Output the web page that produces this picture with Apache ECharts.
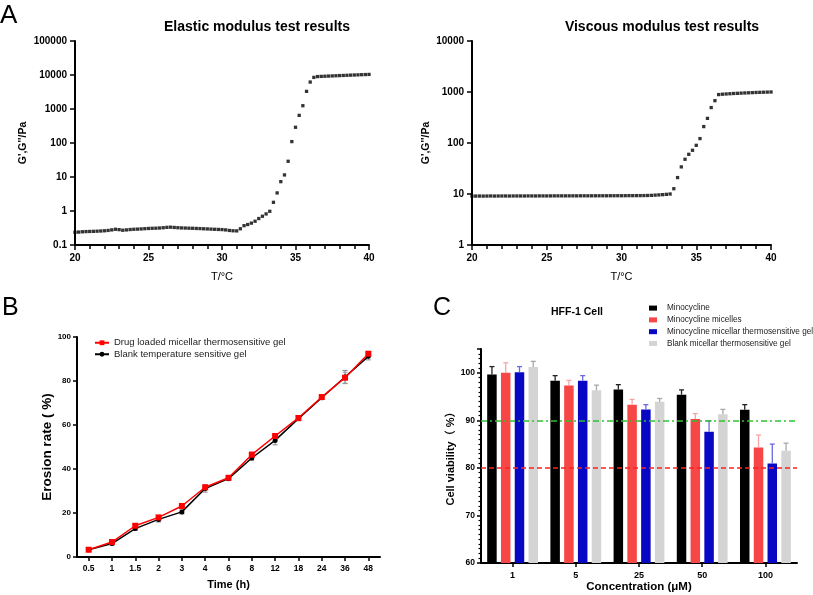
<!DOCTYPE html>
<html>
<head>
<meta charset="utf-8">
<script src="https://cdn.jsdelivr.net/npm/echarts@6/dist/echarts.min.js"></script>
<style>
  html, body { margin: 0; padding: 0; background: #fff; }
  #chart { width: 813px; height: 595px; }
</style>
</head>
<body>
<div id="chart"></div>
<script>
// panel A: rheology temperature sweep
const temps = [20, 20.25, 20.5, 20.75, 21, 21.25, 21.5, 21.75, 22, 22.25, 22.5, 22.75, 23, 23.25, 23.5, 23.75,
  24, 24.25, 24.5, 24.75, 25, 25.25, 25.5, 25.75, 26, 26.25, 26.5, 26.75, 27, 27.25, 27.5, 27.75,
  28, 28.25, 28.5, 28.75, 29, 29.25, 29.5, 29.75, 30, 30.25, 30.5, 30.75, 31, 31.25, 31.5, 31.75,
  32, 32.25, 32.5, 32.75, 33, 33.25, 33.5, 33.75, 34, 34.25, 34.5, 34.75, 35, 35.25, 35.5, 35.75,
  36, 36.25, 36.5, 36.75, 37, 37.25, 37.5, 37.75, 38, 38.25, 38.5, 38.75, 39, 39.25, 39.5, 39.75, 40];
const elasticG = [0.236, 0.24, 0.245, 0.248, 0.25, 0.252, 0.255, 0.258, 0.262, 0.268, 0.278, 0.29, 0.283, 0.272, 0.278, 0.285,
  0.29, 0.293, 0.297, 0.302, 0.307, 0.31, 0.312, 0.316, 0.322, 0.33, 0.334, 0.328, 0.322, 0.318, 0.315, 0.312,
  0.31, 0.307, 0.304, 0.3, 0.297, 0.293, 0.29, 0.287, 0.284, 0.278, 0.268, 0.262, 0.26, 0.3, 0.37, 0.4,
  0.44, 0.5, 0.6, 0.7, 0.82, 0.98, 1.8, 3.4, 7.3, 11.5, 29, 110, 290, 650, 1250, 3300,
  6200, 8500, 9000, 9100, 9200, 9300, 9400, 9500, 9600, 9700, 9800, 9900, 10000, 10100, 10200, 10300, 10400];
const viscousG = [9.1, 9.1, 9.12, 9.1, 9.12, 9.15, 9.12, 9.13, 9.15, 9.15, 9.13, 9.15, 9.16, 9.15, 9.15, 9.17,
  9.17, 9.16, 9.18, 9.18, 9.17, 9.18, 9.2, 9.19, 9.2, 9.2, 9.2, 9.21, 9.2, 9.22, 9.22, 9.21,
  9.22, 9.23, 9.23, 9.24, 9.23, 9.25, 9.25, 9.26, 9.25, 9.27, 9.28, 9.28, 9.3, 9.3, 9.32, 9.35,
  9.4, 9.5, 9.6, 9.7, 9.85, 10.0, 12.7, 21, 34, 48, 60, 72, 90, 122, 210, 304,
  495, 676, 890, 905, 915, 925, 935, 942, 950, 958, 965, 972, 980, 985, 990, 995, 1000];

// panel B: erosion
const timeCats = ['0.5', '1', '1.5', '2', '3', '4', '6', '8', '12', '18', '24', '36', '48'];
const drugGel = [3.3, 6.8, 14.2, 18.0, 23.2, 31.7, 36.0, 46.5, 55.0, 63.2, 72.7, 81.5, 92.4];
const drugGelErr = [0.4, 0.6, 0.8, 0.8, 0.6, 1.0, 0.6, 1.2, 1.0, 0.8, 0.8, 2.5, 1.0];
const blankGel = [3.3, 6.1, 12.9, 17.1, 20.5, 31.1, 35.6, 45.0, 53.0, 62.9, 72.4, 81.8, 91.2];
const blankGelErr = [0.4, 0.7, 0.8, 1.2, 0.9, 1.6, 0.6, 1.0, 2.0, 1.0, 0.8, 3.0, 1.6];

// panel C: HFF-1 viability
const concCats = ['1', '5', '25', '50', '100'];
const seriesNames = ['Minocycline', 'Minocycline micelles', 'Minocycline micellar thermosensitive gel', 'Blank micellar thermosensitive gel'];
const minoVals = [99.65, 98.3, 96.5, 95.4, 92.2];
const minoErr = [1.65, 1.1, 1.0, 1.0, 1.1];
const micVals = [100.0, 97.3, 93.3, 90.3, 84.3];
const micErr = [2.1, 1.1, 1.1, 1.1, 2.6];
const gelVals = [100.1, 98.3, 92.3, 87.6, 80.9];
const gelErr = [1.2, 1.1, 1.0, 2.3, 4.1];
const blankVals = [101.2, 96.3, 93.9, 91.3, 83.6];
const blankErr = [1.2, 1.1, 0.7, 1.0, 1.6];

const FONT = '"Liberation Sans", Arial, "Noto Sans CJK SC", sans-serif';
const chart = echarts.init(document.getElementById('chart'));

const barColors = ['#000000', '#f64646', '#0808c4', '#d4d4d4'];
const errColors = ['#222222', '#f8a4a4', '#6a6ae0', '#a8a8a8'];
const barWidth = 9.5;
const barGapRatio = 0.45;
const pitch = barWidth * (1 + barGapRatio);
const cVals = [minoVals, micVals, gelVals, blankVals];
const cErrs = [minoErr, micErr, gelErr, blankErr];

function logLabel(v) {
  return String(+(+v).toPrecision(6));
}

function axisBase(extra) {
  return Object.assign({
    axisLine: { show: true, lineStyle: { color: '#000', width: 2 } },
    axisTick: { show: true, inside: false, length: 5, lineStyle: { color: '#000', width: 1.5 } },
    splitLine: { show: false },
    nameTextStyle: { color: '#000', fontFamily: FONT }
  }, extra);
}

// error bars for panel C, shifted to sit on each bar
function barErr(idx) {
  return function (params, api) {
    const ci = api.value(0), v = api.value(1), e = api.value(2);
    const base = api.coord([ci, v]);
    const top = api.coord([ci, v + e]);
    const x = base[0] + (idx - 1.5) * pitch;
    const st = { stroke: errColors[idx], lineWidth: 1.3 };
    return {
      type: 'group', children: [
        { type: 'line', shape: { x1: x, y1: base[1], x2: x, y2: top[1] }, style: st },
        { type: 'line', shape: { x1: x - 2.5, y1: top[1], x2: x + 2.5, y2: top[1] }, style: st }
      ]
    };
  };
}

// error bars for panel B, both directions
function lineErr(color) {
  return function (params, api) {
    const ci = api.value(0), v = api.value(1), e = api.value(2);
    const lo = api.coord([ci, v - e]);
    const hi = api.coord([ci, v + e]);
    const x = lo[0];
    const st = { stroke: color, lineWidth: 1 };
    return {
      type: 'group', children: [
        { type: 'line', shape: { x1: x, y1: lo[1], x2: x, y2: hi[1] }, style: st },
        { type: 'line', shape: { x1: x - 2.5, y1: lo[1], x2: x + 2.5, y2: lo[1] }, style: st },
        { type: 'line', shape: { x1: x - 2.5, y1: hi[1], x2: x + 2.5, y2: hi[1] }, style: st }
      ]
    };
  };
}

const barSeries = seriesNames.map((name, i) => {
  const s = {
    name: name,
    type: 'bar',
    xAxisIndex: 3, yAxisIndex: 3,
    barWidth: barWidth,
    barGap: (barGapRatio * 100) + '%',
    itemStyle: { color: barColors[i] },
    data: cVals[i]
  };
  if (i === 3) {
    s.markLine = {
      silent: true, symbol: 'none', label: { show: false },
      data: [
        { yAxis: 90, lineStyle: { color: '#2ec42e', width: 1.5, type: [6, 3, 2, 3] } },
        { yAxis: 80, lineStyle: { color: '#ff2020', width: 1.5, type: [5, 3] } }
      ]
    };
  }
  return s;
});

const barErrSeries = seriesNames.map((name, i) => ({
  name: name + ' SD',
  type: 'custom',
  xAxisIndex: 3, yAxisIndex: 3,
  renderItem: barErr(i),
  z: 3,
  data: cVals[i].map((v, k) => [k, v, cErrs[i][k]])
}));

const tempMinor = { show: true, splitNumber: 5, length: 4, lineStyle: { color: '#000', width: 1.5 } };

const option = {
  animation: false,
  backgroundColor: '#fff',
  textStyle: { fontFamily: FONT },
  graphic: [
    { type: 'text', left: 0, top: 3, style: { text: 'A', fontSize: 26, fontFamily: FONT, fill: '#000' } },
    { type: 'text', left: 2, top: 296, style: { text: 'B', fontSize: 25, fontFamily: FONT, fill: '#000' } },
    { type: 'text', left: 433, top: 296, style: { text: 'C', fontSize: 25, fontFamily: FONT, fill: '#000' } },
    { type: 'text', x: 257, y: 27, style: { text: 'Elastic modulus test results', fontSize: 14, fontWeight: 'bold', fontFamily: FONT, fill: '#000', align: 'center', verticalAlign: 'middle' } },
    { type: 'text', x: 662, y: 27, style: { text: 'Viscous modulus test results', fontSize: 14, fontWeight: 'bold', fontFamily: FONT, fill: '#000', align: 'center', verticalAlign: 'middle' } },
    { type: 'text', x: 577, y: 312, style: { text: 'HFF-1 Cell', fontSize: 10.5, fontWeight: 'bold', fontFamily: FONT, fill: '#000', align: 'center', verticalAlign: 'middle' } }
  ],
  legend: [
    {
      data: ['Drug loaded micellar thermosensitive gel', 'Blank temperature sensitive gel'],
      orient: 'vertical', left: 89, top: 333,
      itemWidth: 14, itemHeight: 6, itemGap: 2,
      textStyle: { fontSize: 9.5, color: '#222', fontFamily: FONT }
    },
    {
      data: seriesNames,
      orient: 'vertical', left: 644, top: 299,
      icon: 'rect', itemWidth: 8, itemHeight: 5, itemGap: 3.6,
      textStyle: { fontSize: 8.2, color: '#222', fontFamily: FONT, padding: [0, 0, 0, 5] }
    }
  ],
  grid: [
    { left: 75, top: 41, width: 294, height: 204 },
    { left: 472, top: 41, width: 299, height: 204 },
    { left: 77, top: 337, width: 303, height: 220 },
    { left: 481, top: 349, width: 316, height: 214 }
  ],
  xAxis: [
    axisBase({
      gridIndex: 0, type: 'value', min: 20, max: 40, interval: 5,
      name: 'T/°C', nameLocation: 'middle', nameGap: 26,
      nameTextStyle: { fontSize: 11, color: '#000', fontFamily: FONT },
      minorTick: tempMinor,
      axisLabel: { fontSize: 10, fontWeight: 'bold', color: '#000', margin: 8 }
    }),
    axisBase({
      gridIndex: 1, type: 'value', min: 20, max: 40, interval: 5,
      name: 'T/°C', nameLocation: 'middle', nameGap: 26,
      nameTextStyle: { fontSize: 11, color: '#000', fontFamily: FONT },
      minorTick: tempMinor,
      axisLabel: { fontSize: 10, fontWeight: 'bold', color: '#000', margin: 8 }
    }),
    axisBase({
      gridIndex: 2, type: 'category', data: timeCats, boundaryGap: true,
      name: 'Time (h)', nameLocation: 'middle', nameGap: 22,
      nameTextStyle: { fontSize: 11, fontWeight: 'bold', color: '#000', fontFamily: FONT },
      axisTick: { show: true, alignWithLabel: true, length: 4, lineStyle: { color: '#000', width: 1.5 } },
      axisLabel: { fontSize: 8.5, fontWeight: 'bold', color: '#000', margin: 7, interval: 0 }
    }),
    axisBase({
      gridIndex: 3, type: 'category', data: concCats, boundaryGap: true,
      name: 'Concentration (μM)', nameLocation: 'middle', nameGap: 17,
      nameTextStyle: { fontSize: 11.5, fontWeight: 'bold', color: '#000', fontFamily: FONT },
      axisTick: { show: true, alignWithLabel: true, length: 4, lineStyle: { color: '#000', width: 1.5 } },
      axisLabel: { fontSize: 9, fontWeight: 'bold', color: '#000', margin: 8 }
    })
  ],
  yAxis: [
    axisBase({
      gridIndex: 0, type: 'log', logBase: 10, min: 0.1, max: 100000, splitNumber: 6,
      name: "G',G''/Pa", nameLocation: 'middle', nameGap: 47,
      nameTextStyle: { fontSize: 10.5, fontWeight: 'bold', color: '#000', fontFamily: FONT },
      axisLabel: { fontSize: 10, fontWeight: 'bold', color: '#000', margin: 8, formatter: logLabel }
    }),
    axisBase({
      gridIndex: 1, type: 'log', logBase: 10, min: 1, max: 10000, splitNumber: 4,
      name: "G',G''/Pa", nameLocation: 'middle', nameGap: 41,
      nameTextStyle: { fontSize: 10.5, fontWeight: 'bold', color: '#000', fontFamily: FONT },
      axisLabel: { fontSize: 10, fontWeight: 'bold', color: '#000', margin: 8, formatter: logLabel }
    }),
    axisBase({
      gridIndex: 2, type: 'value', min: 0, max: 100, interval: 20,
      name: 'Erosion rate ( %)', nameLocation: 'middle', nameGap: 22,
      nameTextStyle: { fontSize: 13.5, fontWeight: 'bold', color: '#000', fontFamily: FONT },
      axisTick: { show: true, length: 4, lineStyle: { color: '#000', width: 1.5 } },
      axisLabel: { fontSize: 8, fontWeight: 'bold', color: '#000', margin: 6 }
    }),
    axisBase({
      gridIndex: 3, type: 'value', min: 60, max: 105, interval: 10,
      name: 'Cell viability（ %）', nameLocation: 'middle', nameGap: 22,
      nameTextStyle: { fontSize: 11, fontWeight: 'bold', color: '#000', fontFamily: FONT },
      axisTick: { show: true, length: 4, lineStyle: { color: '#000', width: 1.5 } },
      minorTick: { show: true, splitNumber: 10, length: 2.5, lineStyle: { color: '#000', width: 1.2 } },
      axisLabel: { fontSize: 8.5, fontWeight: 'bold', color: '#000', margin: 6, showMaxLabel: false,
        formatter: v => (v % 10 === 0 ? String(v) : '') }
    })
  ],
  series: [
    {
      name: 'Elastic', type: 'scatter', xAxisIndex: 0, yAxisIndex: 0,
      symbol: 'rect', symbolSize: 3.3, itemStyle: { color: '#000' },
      data: temps.map((t, i) => [t, elasticG[i]])
    },
    {
      name: 'Viscous', type: 'scatter', xAxisIndex: 1, yAxisIndex: 1,
      symbol: 'rect', symbolSize: 3.3, itemStyle: { color: '#000' },
      data: temps.map((t, i) => [t, viscousG[i]])
    },
    {
      name: 'Blank err', type: 'custom', xAxisIndex: 2, yAxisIndex: 2, z: 1,
      renderItem: lineErr('#8a8a8a'),
      data: blankGel.map((v, i) => [i, v, blankGelErr[i]])
    },
    {
      name: 'Drug err', type: 'custom', xAxisIndex: 2, yAxisIndex: 2, z: 1,
      renderItem: lineErr('#9a9a9a'),
      data: drugGel.map((v, i) => [i, v, drugGelErr[i]])
    },
    {
      name: 'Blank temperature sensitive gel', type: 'line', xAxisIndex: 2, yAxisIndex: 2, z: 2,
      symbol: 'circle', symbolSize: 5,
      lineStyle: { color: '#000', width: 1.5 }, itemStyle: { color: '#000' },
      data: blankGel
    },
    {
      name: 'Drug loaded micellar thermosensitive gel', type: 'line', xAxisIndex: 2, yAxisIndex: 2, z: 3,
      symbol: 'rect', symbolSize: 6,
      lineStyle: { color: '#ff0000', width: 1.5 }, itemStyle: { color: '#ff0000' },
      data: drugGel
    }
  ].concat(barSeries, barErrSeries)
};

chart.setOption(option);
</script>
</body>
</html>
